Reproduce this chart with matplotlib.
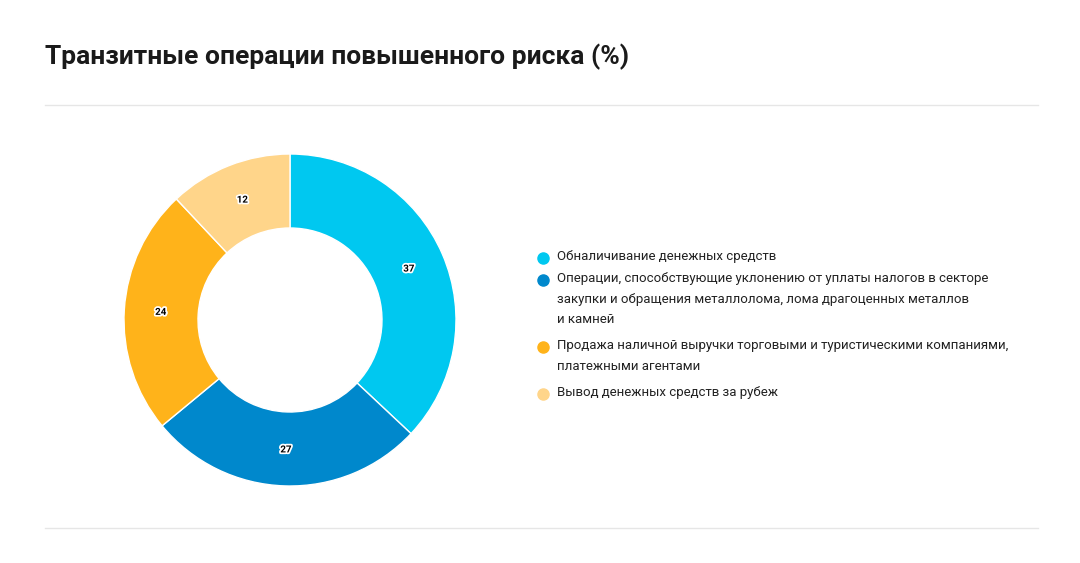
import matplotlib.pyplot as plt
import matplotlib.patheffects as pe

title = "Транзитные операции повышенного риска (%)"
labels = [
    "Обналичивание денежных средств",
    "Операции, способствующие уклонению от уплаты налогов в секторе\nзакупки и обращения металлолома, лома драгоценных металлов\nи камней",
    "Продажа наличной выручки торговыми и туристическими компаниями,\nплатежными агентами",
    "Вывод денежных средств за рубеж",
]
values = [37, 27, 24, 12]
colors = ["#00C8F0", "#0088CC", "#FFB31A", "#FFD58A"]

W, H = 1080, 563
fig = plt.figure(figsize=(W / 100, H / 100), dpi=100)
plt.rcParams["font.family"] = "Roboto"

fig.text(45 / W, 1 - 57 / H, title, fontsize=19, fontweight="bold", color="#1a1a1a", va="center")
for y in (105, 528):
    fig.add_artist(plt.Line2D([45 / W, 1038 / W], [1 - y / H] * 2, color="#e6e6e6", lw=1))

# donut
R = 166
ax = fig.add_axes([(290 - R) / W, (H - 320 - R) / H, 2 * R / W, 2 * R / H])
wedges, _ = ax.pie(values, colors=colors, startangle=90, counterclock=False,
                   radius=1, wedgeprops=dict(width=74 / R, edgecolor="white", linewidth=1))
import numpy as np
ang = 90
for v in values:
    mid = np.deg2rad(ang - v * 3.6 / 2)
    ang -= v * 3.6
    r = 0.78
    ax.text(r * np.cos(mid), r * np.sin(mid), str(v), ha="center", va="center",
            fontsize=7, fontweight="bold", color="black",
            path_effects=[pe.withStroke(linewidth=2.5, foreground="white")])
ax.set_xlim(-1, 1)
ax.set_ylim(-1, 1)
ax.set_aspect("auto")
ax.axis("off")

# legend
ys = [258, 280, 347, 394]
for lab, c, y in zip(labels, colors, ys):
    fig.add_artist(plt.Line2D([543 / W], [1 - y / H], marker="o", markersize=8,
                              color=c, lw=0))
    fig.text(557 / W, 1 - (y - 8) / H, lab, fontsize=9.5, color="#222222", va="top",
             linespacing=1.75)

fig.savefig("out.png", dpi=100)
